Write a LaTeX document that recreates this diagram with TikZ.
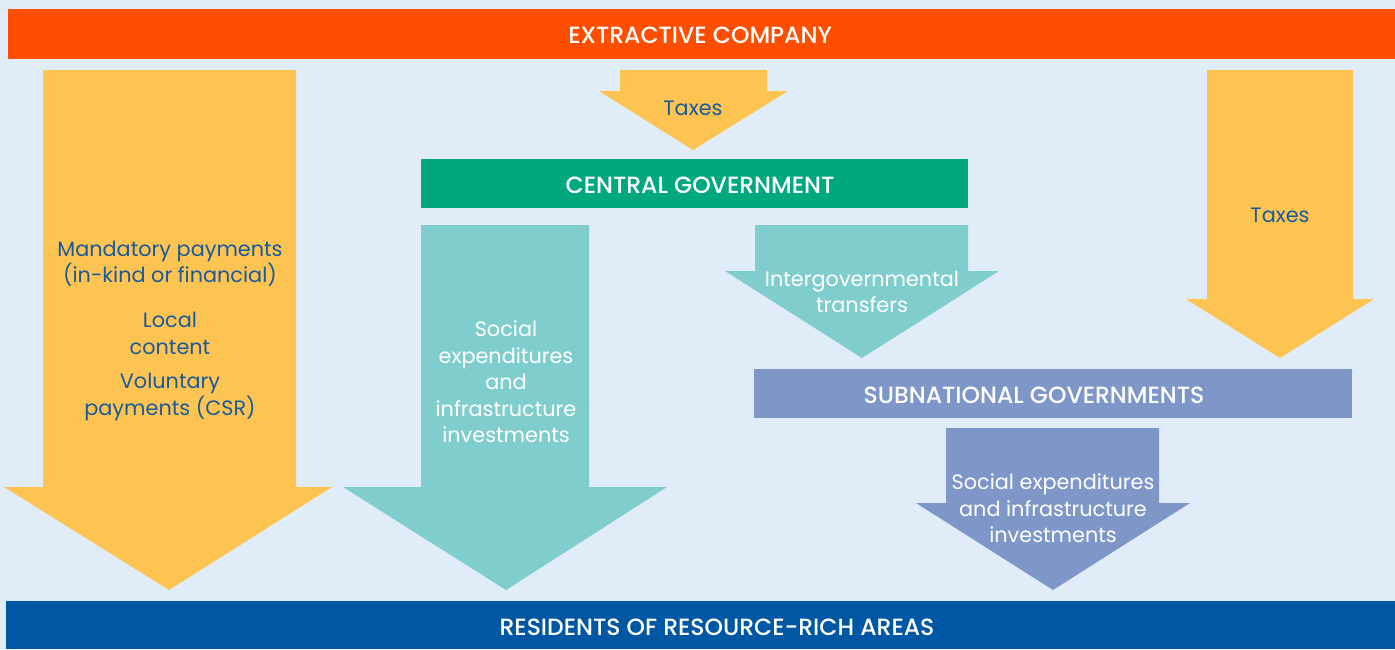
\documentclass[tikz,border=0pt]{standalone}
\usepackage{fontspec}
\setmainfont{Poppins}
\newfontfamily\hdrfont{Poppins Medium}
\definecolor{bgc}{HTML}{E0ECF7}
\definecolor{orangec}{HTML}{FF4E00}
\definecolor{yellowc}{HTML}{FEC452}
\definecolor{greenc}{HTML}{00A880}
\definecolor{tealc}{HTML}{80CDCD}
\definecolor{purplec}{HTML}{7F96C8}
\definecolor{bluec}{HTML}{0057A3}
\definecolor{textblue}{HTML}{1A5A9C}
\tikzset{
  bar/.style={inner sep=0pt, text=white, font=\hdrfont\fontsize{23.5}{28}\selectfont},
  bodytxt/.style={align=center, inner sep=0pt, font=\fontsize{20.8}{26.5}\selectfont},
  darktxt/.style={bodytxt, text=textblue},
  lighttxt/.style={bodytxt, text=white},
}
\begin{document}
\begin{tikzpicture}[x=1pt,y=-1pt]
\fill[bgc] (0,0) rectangle (1395,649);
\useasboundingbox (0,0) rectangle (1395,649);
% bars
\fill[orangec] (8,9) rectangle (1395,59);
\node[bar] (company) at (700,35) {EXTRACTIVE COMPANY};
\fill[bluec] (6,601) rectangle (1395,649);
\node[bar] (residents) at (717,627) {RESIDENTS OF RESOURCE-RICH AREAS};
\fill[greenc] (421,159) rectangle (968,208);
\node[bar] (central) at (700,185) {CENTRAL GOVERNMENT};
\fill[purplec] (754,369) rectangle (1352,418);
\node[bar] (subnational) at (1034,395) {SUBNATIONAL GOVERNMENTS};
% arrows
\fill[yellowc] (43,70) -- (296,70) -- (296,487) -- (332,487) -- (169,590) -- (4,487) -- (43,487) -- cycle;
\fill[tealc] (421,225) -- (589,225) -- (589,487) -- (667,487) -- (506,590) -- (343,487) -- (421,487) -- cycle;
\fill[yellowc] (620,70) -- (767,70) -- (767,91) -- (788,91) -- (693,150) -- (599,91) -- (620,91) -- cycle;
\fill[tealc] (755,225) -- (968,225) -- (968,271) -- (999,271) -- (862,358) -- (725,271) -- (755,271) -- cycle;
\fill[yellowc] (1207,70) -- (1353,70) -- (1353,299) -- (1374,299) -- (1280,358) -- (1186,299) -- (1207,299) -- cycle;
\fill[purplec] (946,428) -- (1159,428) -- (1159,503) -- (1190,503) -- (1053,590) -- (916,503) -- (946,503) -- cycle;
% texts
\node[darktxt] (taxes1) at (693,108) {Taxes};
\node[darktxt] (taxes2) at (1280,215) {Taxes};
\node[darktxt] (mandatory) at (170,263.5) {Mandatory payments\\(in-kind or financial)};
\node[darktxt] (local) at (170,333.5) {Local\\content};
\node[darktxt] (voluntary) at (170,397) {Voluntary\\payments (CSR)};
\node[lighttxt] (social1) at (506,382) {Social\\expenditures\\and\\infrastructure\\investments};
\node[lighttxt] (intergov) at (862,292) {Intergovernmental\\transfers};
\node[lighttxt] (social2) at (1053,508.5) {Social expenditures\\and infrastructure\\investments};
\end{tikzpicture}
\end{document}
